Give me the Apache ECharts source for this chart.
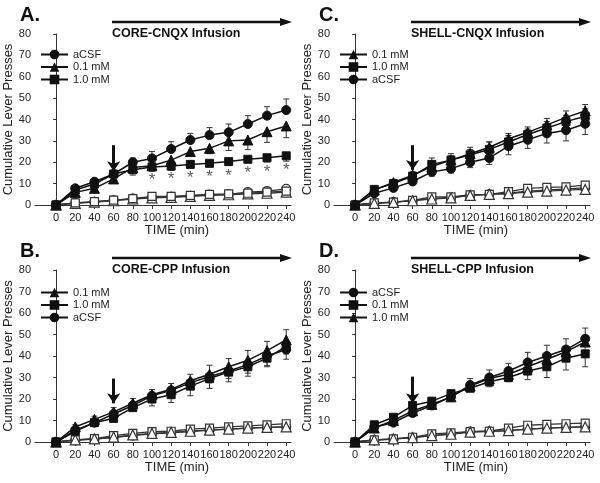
<!DOCTYPE html>
<html><head><meta charset="utf-8">
<script src="https://cdn.jsdelivr.net/npm/echarts@6/dist/echarts.min.js"></script>
<style>html,body{margin:0;padding:0;background:#fff}#c{width:600px;height:483px}</style>
</head><body><div id="c"></div>
<script>
// ---- data ----
const timeMin = [0,20,40,60,80,100,120,140,160,180,200,220,240];
const xTicks = [0,20,40,60,80,100,120,140,160,180,200,220,240];

// Panel A: CORE-CNQX
const A_aCSF = [0,7.8,10.9,14.5,20,21.8,26.2,30.4,32.7,34,37.9,41.8,44.4];
const A_01   = [0,5.9,7.8,12.2,17.5,18.4,21,25,26.5,30,30.4,34.3,37];
const A_10   = [0,7,9.8,14.5,16.5,17.8,18.2,19,19.5,20.3,21.4,22.1,23];
const A_aCSF_err = [0,1,1.2,1.5,2,3.2,3.4,3.1,3.5,3.9,3.9,4.2,5.2];
const A_01_err   = [0,-1,-1.5,-1.5,-2,-1.5,-1.5,-2,-2.5,-4.5,-4.5,-5,-5.5];
const A_10_err   = [0,-1,-1,-1.5,-2.5,-2,-2,-1.5,-1.5,-1.5,-1.5,-2,-2.5];
const A_o_aCSF = [0,1,1.5,2.2,3,3.5,3.8,4.2,4.8,5,6,6.5,7.5];
const A_o_01   = [0,0.8,1.3,2,2.8,3.3,3.6,4,4.5,4.8,5.2,5.5,6];
const A_o_10   = [0,1,1.6,2.3,3,4,4,4.5,5,5.2,5.5,6,6.5];
const A_starX  = [100,120,140,160,180,200,220,240];
const A_starY  = [13,13.2,13.8,14.3,15,16,16.8,17.8];

// Panel C: SHELL-CNQX
const C_01   = [0,7,10.5,14,18,21,24,27,31,34,37.5,41,44];
const C_10   = [0,7.3,10,13.5,19,21,23.5,26,29.5,33,36,39,41.5];
const C_aCSF = [0,5.5,8,11,15.5,17,20,22,27.5,30.5,33.5,35,38];
const C_01_err   = [0,1,1.5,1.5,2,2,2,2.5,2.5,2.5,3,3,3];
const C_10_err   = [0,1,1.5,1.5,3,3,3.5,3.5,3,2.5,3,3,3.5];
const C_aCSF_err = [0,-1,-1.5,-1.5,-2,-2,-2.5,-3,-4,-4,-4.5,-5,-5];
const C_o_01   = [0,0.8,1.2,2,2.8,3.3,4.5,5,5.3,6,6.5,7,7.3];
const C_o_10   = [0,1,1.3,2.2,3.8,3.8,4.7,5,6.3,7.8,8.2,8.5,9.3];
const C_o_aCSF = [0,0.8,1.3,2,3,3.5,4.5,5,5.5,6.5,7,7.5,8];

// Panel B: CORE-CPP
const B_01   = [0,7,10.5,14,18,22,24.5,28.5,31.5,35,38,42.5,47.5];
const B_10   = [0,5,9,11,16,20,22,26,29.5,32.5,35,39,44.5];
const B_aCSF = [0,5.5,9,13,17,21.5,24,27.5,30.5,33,36,40,43];
const B_01_err   = [0,1,1.5,2,2.2,2.4,2.7,3,4.2,3.8,4.6,4.3,4.7];
const B_10_err   = [0,-1,-1.5,-1.5,-1.5,-3.2,-3.6,-4.5,-4.6,-4.5,-4.4,-4,-3.5];
const B_aCSF_err = [0,-1,-1,-1.5,-2,-2,-2.5,-3,-3,-3.5,-4,-4.5,-4.5];
const B_o_01   = [0,1,1.5,2.3,3.3,4,4.5,5,5.5,6,6.5,6.8,7];
const B_o_10   = [0,1,1.6,3,4,4.8,5,6,6.5,7,7.5,8,8.5];
const B_o_aCSF = [0,0.8,1.3,2,3,3.8,4.3,5,5.5,6,6.5,6.8,7];

// Panel D: SHELL-CPP
const D_aCSF = [0,7,9,13.5,17,21,26.5,30,33,37,40,43,48];
const D_01   = [0,8,11.5,17,19,22.5,25,28,30,33,35,39,41];
const D_10   = [0,6.5,10,14.5,17.5,21,26,29.5,31.5,35,38.5,42,46.5];
const D_aCSF_err = [0,1,1.2,1.5,1.5,2,3,3.5,3.6,4.7,5,5,5];
const D_01_err   = [0,-1,-1.5,-2,-1.5,-3,-1.3,-2.3,-2,-4,-5,-5.5,-6];
const D_10_err   = [0,-1,-1,-1.5,-1.5,-2,-2.5,-3,-3,-3.5,-4,-4,-4];
const D_o_aCSF = [0,0.8,1.3,2,3,3.8,4.8,5,5.3,6,6.5,6.8,7];
const D_o_01   = [0,1,1.5,2.2,3.8,4.2,4.8,5,6.5,7.8,8.2,8.5,8.8];
const D_o_10   = [0,1,1.5,2,3,3.6,4.6,5,5.3,6,6.5,6.8,7];

// infusion-start arrows at t=60 (top value, tip value)
const arrowTime = 60;
const arrowA = [28, 15.8];
const arrowC = [28, 16.4];
const arrowB = [29.5, 18];
const arrowD = [30.4, 18];

const titles = ['CORE-CNQX Infusion','SHELL-CNQX Infusion','CORE-CPP Infusion','SHELL-CPP Infusion'];
const letters = ['A.','C.','B.','D.'];

// ---- layout ----
const FONT = 'Liberation Sans, Arial, sans-serif';
const grids = [
  {left:35, top:34, width:256, height:171},
  {left:334, top:34, width:256, height:171},
  {left:35, top:270, width:256, height:172},
  {left:334, top:270, width:256, height:172}
];

const panels = [
  {filled:[['aCSF','circle',A_aCSF,A_aCSF_err],['0.1 mM','triangle',A_01,A_01_err],['1.0 mM','rect',A_10,A_10_err]],
   open:[['circle',A_o_aCSF],['triangle',A_o_01],['rect',A_o_10]], arrow:arrowA, stars:[A_starX,A_starY]},
  {filled:[['0.1 mM','triangle',C_01,C_01_err],['1.0 mM','rect',C_10,C_10_err],['aCSF','circle',C_aCSF,C_aCSF_err]],
   open:[['circle',C_o_aCSF],['rect',C_o_10],['triangle',C_o_01]], arrow:arrowC},
  {filled:[['0.1 mM','triangle',B_01,B_01_err],['1.0 mM','rect',B_10,B_10_err],['aCSF','circle',B_aCSF,B_aCSF_err]],
   open:[['circle',B_o_aCSF],['rect',B_o_10],['triangle',B_o_01]], arrow:arrowB},
  {filled:[['aCSF','circle',D_aCSF,D_aCSF_err],['0.1 mM','rect',D_01,D_01_err],['1.0 mM','triangle',D_10,D_10_err]],
   open:[['circle',D_o_aCSF],['rect',D_o_01],['triangle',D_o_10]], arrow:arrowD}
];

const symSize = {circle:9, triangle:10, rect:8};
const xAxes = [], yAxes = [], series = [], legends = [], graphics = [];

grids.forEach((g, i) => {
  xAxes.push({
    type:'value', gridIndex:i, min:-22, max:245,
    name:'TIME (min)', nameLocation:'middle', nameGap:17,
    nameTextStyle:{fontSize:13, color:'#222', fontFamily:FONT, padding:[0,0,0,28]},
    axisLine:{lineStyle:{color:'#333', width:1}},
    axisTick:{show:true, customValues:xTicks, length:4, lineStyle:{color:'#333'}},
    axisLabel:{customValues:xTicks, fontSize:11, color:'#222', fontFamily:FONT, margin:7},
    splitLine:{show:false}
  });
  yAxes.push({
    type:'value', gridIndex:i, min:0, max:80, interval:10,
    name:'Cumulative Lever Presses', nameLocation:'middle', nameGap:20,
    nameTextStyle:{fontSize:13, color:'#222', fontFamily:FONT},
    axisLine:{show:true, lineStyle:{color:'#333', width:1}},
    axisTick:{show:true, length:3, lineStyle:{color:'#333'}},
    axisLabel:{fontSize:11, color:'#222', fontFamily:FONT, margin:4},
    splitLine:{show:false}
  });
  const p = panels[i];
  const legendNames = [];
  p.open.forEach((o, k) => {
    series.push({
      type:'line', xAxisIndex:i, yAxisIndex:i, z:3, name:'open'+i+k,
      data: timeMin.map((t, j) => [t, o[1][j]]),
      symbol:o[0], symbolSize:symSize[o[0]], showSymbol:true,
      lineStyle:{color:'#333', width:1.3},
      itemStyle:{color:'#fff', borderColor:'#333', borderWidth:1.2},
      animation:false, silent:true
    });
  });
  p.filled.forEach((f, k) => {
    const nm = i + '|' + f[0];
    legendNames.push(nm);
    const s = {
      type:'line', xAxisIndex:i, yAxisIndex:i, z:4, name:nm,
      data: timeMin.map((t, j) => [t, f[2][j]]),
      symbol:f[1], symbolSize:symSize[f[1]],
      lineStyle:{color:'#111', width:1.5},
      itemStyle:{color:'#111', borderColor:'#111'},
      animation:false
    };
    if (k === 0) {
      s.markLine = {
        silent:true, animation:false, symbol:['none','arrow'], symbolSize:10,
        label:{show:false},
        lineStyle:{color:'#111', width:3, type:'solid'},
        data:[[{coord:[arrowTime, p.arrow[0]]},{coord:[arrowTime, p.arrow[1]]}]]
      };
    }
    series.push(s);
    // error bars
    series.push({
      type:'custom', xAxisIndex:i, yAxisIndex:i, z:2, silent:true, animation:false,
      data: timeMin.map((t, j) => [t, f[2][j], f[3][j]]),
      renderItem:(params, api) => {
        const x = api.value(0), y = api.value(1), e = api.value(2);
        if (!e) return null;
        const a = api.coord([x, y]), b = api.coord([x, y + e]);
        const st = {stroke:'#333', lineWidth:1};
        return {type:'group', children:[
          {type:'line', shape:{x1:a[0], y1:a[1], x2:b[0], y2:b[1]}, style:st},
          {type:'line', shape:{x1:b[0]-3, y1:b[1], x2:b[0]+3, y2:b[1]}, style:st}
        ]};
      }
    });
  });
  if (p.stars) {
    series.push({
      type:'scatter', xAxisIndex:i, yAxisIndex:i, z:5, silent:true, animation:false,
      data: p.stars[0].map((t, j) => [t, p.stars[1][j]]),
      symbolSize:0,
      label:{show:true, position:'inside', formatter:'*', fontSize:17, color:'#333', fontFamily:FONT, offset:[0,3]}
    });
  }
  legends.push({
    orient:'vertical', left:g.left + 5, top:g.top + (i < 2 ? 15 : 17), padding:0,
    itemWidth:27, itemHeight:12, itemGap:1.5,
    data:legendNames, selectedMode:false,
    formatter:(n) => n.split('|')[1],
    textStyle:{fontSize:11, color:'#222', fontFamily:FONT}
  });
  // panel letter
  graphics.push({type:'text', left:g.left - 15, top:g.top - 29,
    style:{text:letters[i], font:'bold 20px ' + FONT, fill:'#111'}});
  // infusion arrow + label
  const lx1 = g.left + 77, lx2 = g.left + 257, ly = g.top - 12;
  graphics.push({type:'line', shape:{x1:lx1, y1:ly, x2:lx2 - 8, y2:ly}, style:{stroke:'#111', lineWidth:2.6}});
  graphics.push({type:'polygon', shape:{points:[[lx2 - 12, ly - 4], [lx2, ly], [lx2 - 12, ly + 4]]}, style:{fill:'#111'}});
  graphics.push({type:'text', left:lx1, top:ly + 5,
    style:{text:titles[i], font:'bold 12.5px ' + FONT, fill:'#111'}});
});

const chart = echarts.init(document.getElementById('c'), null, {renderer:'canvas'});
chart.setOption({
  backgroundColor:'#fff', animation:false,
  grid:grids, xAxis:xAxes, yAxis:yAxes, legend:legends, series:series, graphic:graphics
});
</script></body></html>
